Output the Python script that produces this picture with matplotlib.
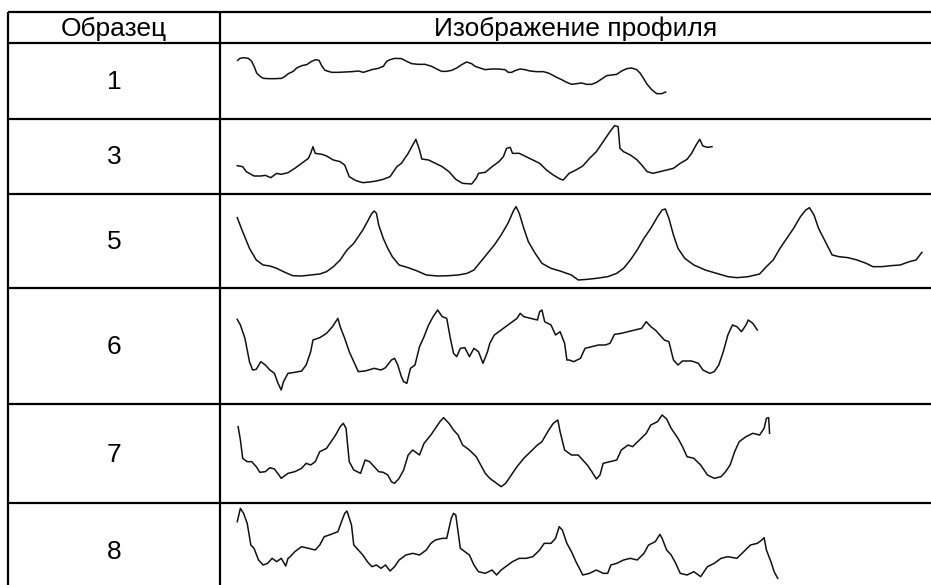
import matplotlib
matplotlib.use("Agg")
import matplotlib.pyplot as plt

plt.rcParams['font.family'] = ['Liberation Sans', 'DejaVu Sans']

# table text
col_headers = ["Образец", "Изображение профиля"]
samples = ["1", "3", "5", "6", "7", "8"]

# profile traces (position along profile, depth downwards)
prof1_x = [38, 45, 55, 70, 80, 88, 95, 105, 115, 130, 150, 170, 180, 190, 205, 215, 230, 245, 260, 272,
           282, 290, 300, 320, 340, 360, 380, 400, 415, 425, 440, 460, 475, 485, 495, 510, 530, 545, 560,
           580, 600, 620, 635, 650, 665, 680, 695, 710, 725, 740, 750, 765, 780, 800, 820, 840, 850, 860,
           870, 885, 900, 915, 935, 955, 970, 980, 995, 1010, 1025, 1040, 1055, 1070, 1085, 1100, 1115,
           1130, 1145, 1160, 1175, 1190, 1205, 1220, 1235, 1245, 1255, 1265, 1280, 1295, 1310, 1322]
prof1_y = [52, 46, 44, 46, 55, 72, 90, 100, 106, 107, 107, 106, 100, 92, 85, 75, 68, 65, 55, 50,
           52, 68, 82, 88, 88, 87, 86, 84, 88, 85, 80, 76, 70, 55, 50, 46, 47, 55, 62,
           64, 64, 70, 78, 85, 85, 82, 75, 65, 57, 62, 70, 75, 80, 78, 78, 80, 88, 88,
           83, 78, 80, 84, 86, 86, 90, 95, 103, 110, 118, 124, 122, 120, 124, 124, 118,
           108, 98, 96, 94, 84, 77, 75, 80, 90, 105, 122, 140, 152, 152, 147]

prof3_x = [38, 50, 58, 75, 90, 100, 112, 125, 135, 150, 165, 180, 195, 200, 205, 210, 225, 235, 250, 265,
           275, 285, 300, 315, 330, 345, 360, 375, 390, 400, 415, 425, 432, 440, 445, 460, 475, 490, 505,
           520, 535, 555, 565, 570, 585, 600, 615, 625, 632, 640, 645, 660, 675, 690, 705, 720, 735, 750,
           757, 770, 785, 800, 815, 830, 845, 860, 870, 878, 882, 890, 905, 920, 930, 942, 955, 970, 985,
           1000, 1015, 1030, 1040, 1050, 1058, 1065, 1075, 1085]
prof3_y = [137, 140, 155, 168, 168, 166, 173, 160, 163, 158, 145, 130, 115, 100, 80, 100, 103, 108, 120, 125,
           135, 170, 182, 188, 186, 183, 178, 170, 140, 130, 100, 75, 58, 90, 117, 120, 130, 140, 155,
           178, 190, 192, 175, 160, 157, 140, 125, 110, 85, 82, 100, 100, 110, 120, 130, 150, 165, 177,
           180, 160, 150, 138, 115, 95, 65, 35, 17, 20, 85, 95, 105, 120, 135, 155, 160, 155, 150,
           145, 130, 118, 100, 75, 58, 78, 82, 80]

prof5_x = [38, 50, 65, 80, 95, 110, 125, 140, 160, 180, 200, 220, 235, 250, 265, 280, 295, 305, 315, 325,
           335, 340, 345, 350, 360, 370, 380, 395, 415, 435, 455, 480, 505, 525, 545, 560, 575, 590, 605,
           620, 635, 648, 653, 660, 670, 680, 695, 710, 730, 750, 775, 790, 810, 830, 855, 875, 890, 905,
           920, 935, 950, 965, 975, 982, 990, 1000, 1010, 1025, 1045, 1070, 1095, 1120, 1140, 1165, 1190,
           1205, 1220, 1235, 1250, 1265, 1280, 1292, 1300, 1310, 1320, 1335, 1350, 1365, 1385, 1405, 1425,
           1440, 1460, 1480, 1500, 1520, 1535, 1548]
prof5_y = [68, 110, 160, 195, 210, 213, 220, 230, 242, 243, 240, 237, 230, 215, 195, 165, 145, 125, 105, 80,
           55, 48, 55, 90, 130, 160, 185, 210, 218, 228, 240, 243, 242, 240, 235, 225, 200, 175, 150,
           120, 85, 45, 35, 55, 100, 140, 175, 205, 220, 228, 240, 255, 253, 250, 245, 235, 220, 195,
           165, 130, 100, 65, 45, 42, 70, 120, 160, 190, 210, 225, 235, 245, 248, 245, 237,
           215, 195, 160, 130, 100, 65, 45, 38, 60, 100, 140, 180, 185, 188, 195, 205,
           215, 215, 212, 210, 200, 195, 172]

prof6_x = [38, 45, 55, 65, 72, 80, 90, 100, 110, 120, 128, 135, 140, 150, 165, 180, 190, 200, 205, 220,
           235, 248, 260, 265, 275, 285, 295, 305, 320, 340, 355, 365, 378, 385, 392, 400, 405, 412, 420,
           430, 440, 450, 460, 470, 480, 490, 500, 508, 515, 522, 530, 540, 550, 560, 570, 580, 590, 595,
           605, 615, 625, 635, 645, 655, 662, 670, 685, 700, 705, 710, 716, 730, 740, 750, 760, 765, 770,
           780, 795, 805, 820, 835, 850, 860, 870, 885, 900, 915, 930, 940, 950, 960, 970, 980, 990, 1000,
           1010, 1020, 1040, 1055, 1065, 1080, 1090, 1100, 1110, 1120, 1130, 1140, 1150, 1160, 1165, 1175,
           1185]
prof6_y = [103, 120, 160, 230, 255, 253, 230, 240, 255, 265, 295, 315, 290, 265, 262, 258, 240, 200, 165, 158,
           145, 125, 100, 125, 160, 200, 230, 260, 258, 250, 255, 248, 225, 220, 240, 275, 290, 295, 250,
           240, 185, 155, 120, 95, 75, 95, 100, 160, 205, 215, 190, 188, 215, 190, 200, 235, 200, 175,
           150, 140, 130, 120, 110, 100, 85, 95, 100, 105, 80, 75, 110, 120, 150, 140, 175, 225, 225,
           230, 220, 190, 185, 180, 180, 175, 148, 145, 140, 135, 130, 110, 125, 135, 150, 165, 170, 225,
           240, 228, 228, 235, 255, 265, 260, 240, 200, 150, 120, 125, 140, 120, 105, 115,
           135]

prof7_x = [40, 45, 50, 60, 70, 80, 88, 100, 110, 120, 130, 135, 150, 165, 180, 190, 200, 210, 220, 235,
           245, 255, 265, 272, 278, 285, 295, 310, 320, 330, 340, 350, 360, 370, 378, 385, 395, 405, 415,
           425, 440, 450, 465, 475, 485, 493, 505, 515, 525, 535, 550, 565, 575, 585, 595, 610, 620, 630,
           640, 655, 670, 685, 700, 710, 725, 735, 745, 750, 760, 775, 790, 800, 810, 820, 830, 838, 845,
           860, 875, 885, 900, 910, 925, 940, 950, 965, 975, 985, 995, 1010, 1020, 1030, 1045, 1060, 1075,
           1090, 1105, 1115, 1125, 1135, 1145, 1160, 1175, 1190, 1200, 1205, 1210, 1212]
prof7_y = [95, 135, 190, 200, 200, 215, 232, 230, 218, 222, 240, 250, 235, 230, 220, 205, 210, 200, 170, 160,
           140, 120, 95, 85, 100, 200, 225, 235, 195, 200, 215, 230, 232, 240, 260, 265, 250, 225, 180,
           165, 180, 145, 120, 100, 80, 68, 85, 105, 120, 150, 165, 185, 210, 235, 250, 265, 275, 265,
           245, 215, 190, 170, 150, 140, 105, 85, 75, 110, 165, 180, 180, 195, 210, 230, 252, 240, 205,
           200, 195, 165, 150, 155, 135, 115, 90, 80, 60, 72, 100, 130, 155, 185, 190, 210, 240,
           250, 245, 230, 210, 170, 140, 125, 115, 120, 100, 70, 68, 115]

prof8_x = [38, 45, 52, 60, 68, 75, 85, 95, 105, 115, 125, 135, 145, 150, 155, 165, 180, 195, 210, 220,
           230, 245, 260, 268, 275, 280, 290, 295, 305, 315, 325, 335, 345, 355, 365, 375, 385, 395, 410,
           425, 440, 455, 465, 475, 490, 500, 510, 515, 520, 530, 540, 550, 560, 570, 585, 600, 610, 620,
           630, 645, 660, 675, 690, 705, 715, 730, 740, 748, 755, 765, 775, 785, 800, 815, 830, 845, 855,
           862, 875, 890, 905, 920, 935, 945, 960, 970, 975, 985, 995, 1005, 1015, 1030, 1045, 1060, 1075,
           1090, 1105, 1120, 1140, 1155, 1170, 1185, 1195, 1200, 1205, 1215, 1222, 1230]
prof8_y = [110, 70, 85, 115, 180, 190, 225, 240, 235, 220, 230, 220, 243, 220, 215, 200, 185, 190, 195, 180,
           155, 148, 140, 110, 85, 78, 120, 180, 195, 210, 230, 245, 240, 250, 240, 258, 245, 225, 210,
           205, 210, 195, 175, 165, 160, 160, 100, 85, 90, 190, 200, 210, 240, 260, 265, 255, 270, 255,
           245, 230, 220, 220, 215, 195, 175, 175, 160, 125, 135, 175, 200, 230, 270, 265, 255, 265, 265,
           240, 235, 225, 220, 225, 205, 180, 170, 148, 160, 195, 210, 235, 265, 270, 260, 275, 245,
           235, 220, 215, 220, 200, 180, 175, 165, 158, 195, 230, 260, 280]

W, H = 931, 585
fig = plt.figure(figsize=(W / 100, H / 100), dpi=100)
ax = fig.add_axes([0, 0, 1, 1])
ax.set_xlim(0, W)
ax.set_ylim(H, 0)
ax.axis('off')

left, mid = 8, 220
row_edges = [12, 43, 119, 194, 288, 404, 503]

for y in row_edges:
    ax.plot([left, W], [y, y], color='black', lw=1.6, solid_capstyle='butt')
ax.plot([left, left], [row_edges[0], H], color='black', lw=1.6, solid_capstyle='butt')
ax.plot([mid, mid], [row_edges[0], H], color='black', lw=1.6, solid_capstyle='butt')

fs = 19
ax.text((left + mid) / 2, (row_edges[0] + row_edges[1]) / 2 + 1, col_headers[0],
        ha='center', va='center', fontsize=fs)
ax.text((mid + W) / 2, (row_edges[0] + row_edges[1]) / 2 + 1, col_headers[1],
        ha='center', va='center', fontsize=fs)

bottoms = row_edges[2:] + [H + 20]
for i, s in enumerate(samples):
    yc = (row_edges[i + 1] + bottoms[i]) / 2
    if i == 5:
        yc = 551
    ax.text((left + mid) / 2, yc + 1, s, ha='center', va='center', fontsize=fs)


def profile(px, py, box, xr, yr):
    # box: (x0, y0, w, h) in picture pixels; xr, yr: extent of trace units
    x0, y0, w, h = box
    a = fig.add_axes([x0 / W, 1 - (y0 + h) / H, w / W, h / H])
    a.plot(px, py, color='#111111', lw=1.1)
    a.set_xlim(0, xr)
    a.set_ylim(yr, 0)
    a.axis('off')


profile(prof1_x, prof1_y, (225, 43, 460, 76), 1380, 228)
profile(prof3_x, prof3_y, (220, 120, 711, 75), 1568, 225)
profile(prof5_x, prof5_y, (220, 195, 711, 95), 1568, 285)
profile(prof6_x, prof6_y, (220, 285, 711, 110), 1568, 330)
profile(prof7_x, prof7_y, (220, 395, 711, 95), 1568, 285)
profile(prof8_x, prof8_y, (220, 485, 711, 100), 1568, 300)

fig.savefig('out.png', dpi=100)
